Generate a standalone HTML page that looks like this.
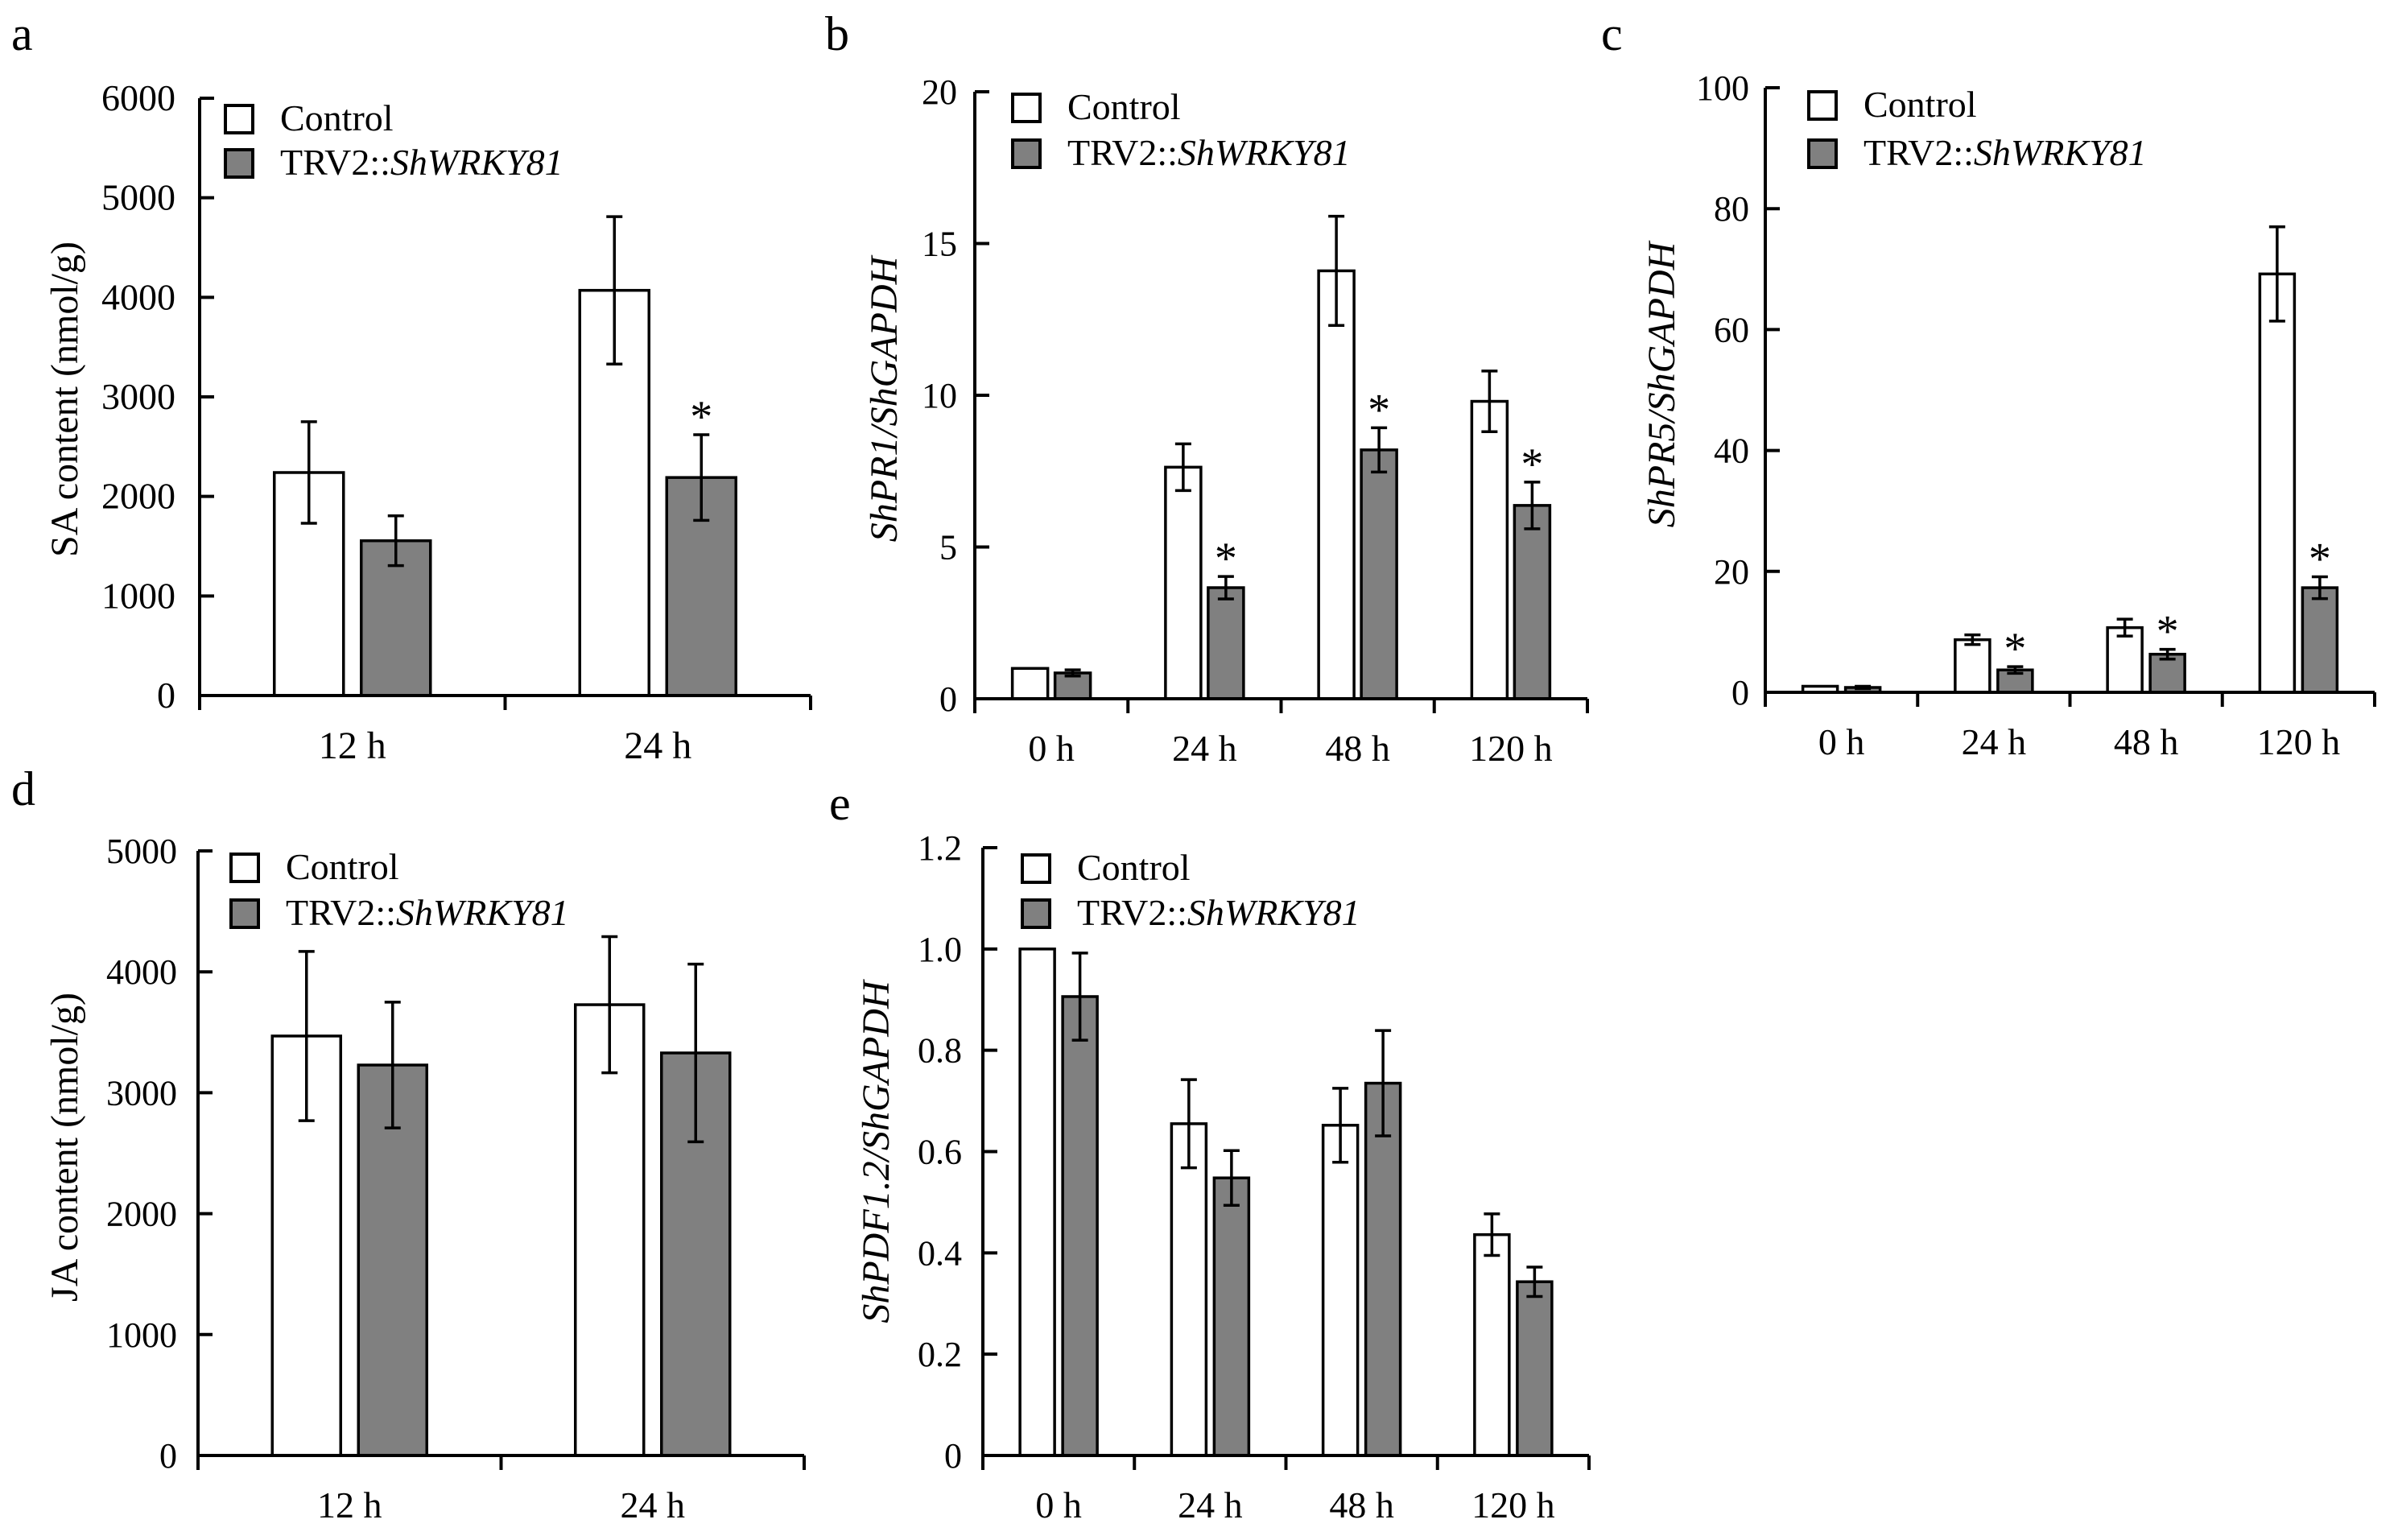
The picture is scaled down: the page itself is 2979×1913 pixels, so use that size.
<!DOCTYPE html>
<html><head><meta charset="utf-8"><style>
html,body{margin:0;padding:0;background:#fff;}
svg{display:block;font-family:"Liberation Serif",serif;}
</style></head><body>
<svg id="fig" width="2979" height="1913" viewBox="0 0 2979 1913" xmlns="http://www.w3.org/2000/svg"></svg>
<script>
// ---- Panel a: SA content ----
const aCategories = ["12 h", "24 h"];
const aControl = [2240, 4070];
const aControlErr = [510, 740];
const aTreated = [1555, 2190];
const aTreatedErr = [250, 430];
const aStars = [false, true];
const aTicks = [0, 1000, 2000, 3000, 4000, 5000, 6000];
// ---- Panel b: ShPR1 ----
const bCategories = ["0 h", "24 h", "48 h", "120 h"];
const bControl = [1.0, 7.63, 14.1, 9.8];
const bControlErr = [0, 0.77, 1.8, 1.0];
const bTreated = [0.85, 3.66, 8.2, 6.37];
const bTreatedErr = [0.1, 0.37, 0.73, 0.77];
const bStars = [false, true, true, true];
const bTicks = [0, 5, 10, 15, 20];
// ---- Panel c: ShPR5 ----
const cCategories = ["0 h", "24 h", "48 h", "120 h"];
const cControl = [1.0, 8.7, 10.7, 69.2];
const cControlErr = [0, 0.8, 1.4, 7.8];
const cTreated = [0.8, 3.7, 6.3, 17.3];
const cTreatedErr = [0.2, 0.55, 0.8, 1.8];
const cStars = [false, true, true, true];
const cTicks = [0, 20, 40, 60, 80, 100];
// ---- Panel d: JA content ----
const dCategories = ["12 h", "24 h"];
const dControl = [3469, 3728];
const dControlErr = [700, 563];
const dTreated = [3229, 3329];
const dTreatedErr = [520, 735];
const dStars = [false, false];
const dTicks = [0, 1000, 2000, 3000, 4000, 5000];
// ---- Panel e: ShPDF1.2 ----
const eCategories = ["0 h", "24 h", "48 h", "120 h"];
const eControl = [1.0, 0.655, 0.652, 0.436];
const eControlErr = [0, 0.087, 0.073, 0.041];
const eTreated = [0.906, 0.548, 0.735, 0.343];
const eTreatedErr = [0.086, 0.054, 0.104, 0.029];
const eStars = [false, false, false, false];
const eTicks = [0, 0.2, 0.4, 0.6, 0.8, 1.0, 1.2];
const eTickLabels = ["0", "0.2", "0.4", "0.6", "0.8", "1.0", "1.2"];

const NS = "http://www.w3.org/2000/svg";
const svg = document.getElementById("fig");
function mk(tag, attrs, parent) {
  const el = document.createElementNS(NS, tag);
  for (const k in attrs) el.setAttribute(k, attrs[k]);
  (parent || svg).appendChild(el);
  return el;
}

function panel(p) {
  const g = mk("g", {});
  
  
  const yMax = p.ticks[p.ticks.length - 1];
  const yS = v => p.y0 - (v / yMax) * (p.y0 - p.yTop);
  const n = p.cats.length;
  const gw = (p.xEnd - p.x0) / n;
  const xC = i => p.x0 + gw * (i + 0.5);

  const L = mk("text", {x: p.lx, y: p.ly, "font-size": 60}, g);
  L.textContent = p.id;
  
  

  for (let i = 0; i < n; i++) {
    const series = [
      {v: p.ctrl[i], e: p.ctrlE[i], fill: "#fff", off: -p.off, nm: "control"},
      {v: p.trt[i], e: p.trtE[i], fill: "#808080", off: p.off, nm: "treated"}
    ];
    series.forEach((s, si) => {
      const cx = xC(i) + s.off;
      const r = mk("rect", {x: cx - p.bw / 2, y: yS(s.v), width: p.bw, height: p.y0 - yS(s.v), fill: s.fill, stroke: "#000", "stroke-width": 3.5}, g);
      
      
      if (s.e > 0) {
        const t = yS(s.v + s.e), b = yS(s.v - s.e);
        const eb = mk("path", {d: `M${cx},${t}V${b}M${cx - 10},${t}H${cx + 10}M${cx - 10},${b}H${cx + 10}`, stroke: "#000", "stroke-width": 3.5, fill: "none"}, g);
        
        
      }
      if (si === 1 && p.stars[i]) {
        const st = mk("text", {x: cx, y: yS(s.v + s.e) - 4, "font-size": 56, "text-anchor": "middle"}, g);
        st.textContent = "*";
        
        
      }
    });
  }

  const ax = mk("path", {d: `M${p.x0},${p.yTop}V${p.y0 + 18}M${p.x0},${p.y0}H${p.xEnd}`, stroke: "#000", "stroke-width": 4, fill: "none"}, g);
  
  
  for (let i = 1; i <= n; i++) {
    const x = p.x0 + gw * i;
    const tk = mk("line", {x1: x, x2: x, y1: p.y0, y2: p.y0 + 18, stroke: "#000", "stroke-width": 4}, g);
    
    
  }
  p.ticks.forEach((v, k) => {
    const y = yS(v);
    if (v > 0) {
      const tk = mk("line", {x1: p.x0, x2: p.x0 + 18, y1: y, y2: y, stroke: "#000", "stroke-width": 4}, g);
      
      
    }
    const tl = mk("text", {x: p.x0 - p.tlGap, y: y + 15, "font-size": p.tfs, "text-anchor": "end"}, g);
    tl.textContent = p.tickLabels ? p.tickLabels[k] : String(v);
    
    
  });
  p.cats.forEach((c, i) => {
    const tl = mk("text", {x: xC(i), y: p.xly, "font-size": p.tfs + 2, "text-anchor": "middle"}, g);
    tl.textContent = c;
    
    
  });

  const yt = mk("text", {x: 0, y: 0, "font-size": 48, "text-anchor": "middle", transform: `translate(${p.ytx},${p.yty}) rotate(-90)`, "font-style": p.ytItalic ? "italic" : "normal"}, g);
  yt.textContent = p.ytitle;
  
  

  const lg = mk("g", {}, g);
  
  
  [["#fff", "Control", p.lgy1], ["#808080", null, p.lgy2]].forEach(([f, t, y]) => {
    const bx = mk("rect", {x: p.lgx, y: y, width: 34, height: 34, fill: f, stroke: "#000", "stroke-width": 4}, lg);
    
    
    const tx = mk("text", {x: p.lgx + 68, y: y + 31, "font-size": 46}, lg);
    if (t) tx.textContent = t;
    else {
      const a = mk("tspan", {}, tx); a.textContent = "TRV2::";
      const b = mk("tspan", {"font-style": "italic"}, tx); b.textContent = "ShWRKY81";
    }
    
    
  });
}

panel({id: "a", cats: aCategories, ctrl: aControl, ctrlE: aControlErr, trt: aTreated, trtE: aTreatedErr, stars: aStars, ticks: aTicks,
  x0: 248, xEnd: 1007, y0: 864, yTop: 122, off: 54, bw: 86, tfs: 46, tlGap: 30, xly: 942,
  lx: 14, ly: 62, ytx: 96, yty: 496, ytitle: "SA content (nmol/g)", ytItalic: false, lgx: 280, lgy1: 131, lgy2: 186});
panel({id: "b", cats: bCategories, ctrl: bControl, ctrlE: bControlErr, trt: bTreated, trtE: bTreatedErr, stars: bStars, ticks: bTicks,
  x0: 1211, xEnd: 1972, y0: 868, yTop: 114, off: 26.5, bw: 44, tfs: 44, tlGap: 22, xly: 945,
  lx: 1025, ly: 62, ytx: 1114, yty: 496, ytitle: "ShPR1/ShGAPDH", ytItalic: true, lgx: 1258, lgy1: 117, lgy2: 174});
panel({id: "c", cats: cCategories, ctrl: cControl, ctrlE: cControlErr, trt: cTreated, trtE: cTreatedErr, stars: cStars, ticks: cTicks,
  x0: 2193, xEnd: 2950, y0: 860, yTop: 109, off: 26.5, bw: 43, tfs: 44, tlGap: 20, xly: 937,
  lx: 1989, ly: 62, ytx: 2080, yty: 478, ytitle: "ShPR5/ShGAPDH", ytItalic: true, lgx: 2247, lgy1: 114, lgy2: 174});
panel({id: "d", cats: dCategories, ctrl: dControl, ctrlE: dControlErr, trt: dTreated, trtE: dTreatedErr, stars: dStars, ticks: dTicks,
  x0: 246, xEnd: 999, y0: 1808, yTop: 1057, off: 53.5, bw: 85, tfs: 44, tlGap: 26, xly: 1885,
  lx: 14, ly: 1000, ytx: 96, yty: 1425, ytitle: "JA content (nmol/g)", ytItalic: false, lgx: 287, lgy1: 1061, lgy2: 1118});
panel({id: "e", cats: eCategories, ctrl: eControl, ctrlE: eControlErr, trt: eTreated, trtE: eTreatedErr, stars: eStars, ticks: eTicks, tickLabels: eTickLabels,
  x0: 1221, xEnd: 1974, y0: 1808, yTop: 1053, off: 26.5, bw: 43, tfs: 44, tlGap: 26, xly: 1885,
  lx: 1030, ly: 1018, ytx: 1104, yty: 1431, ytitle: "ShPDF1.2/ShGAPDH", ytItalic: true, lgx: 1270, lgy1: 1062, lgy2: 1118});
</script>
</body></html>
